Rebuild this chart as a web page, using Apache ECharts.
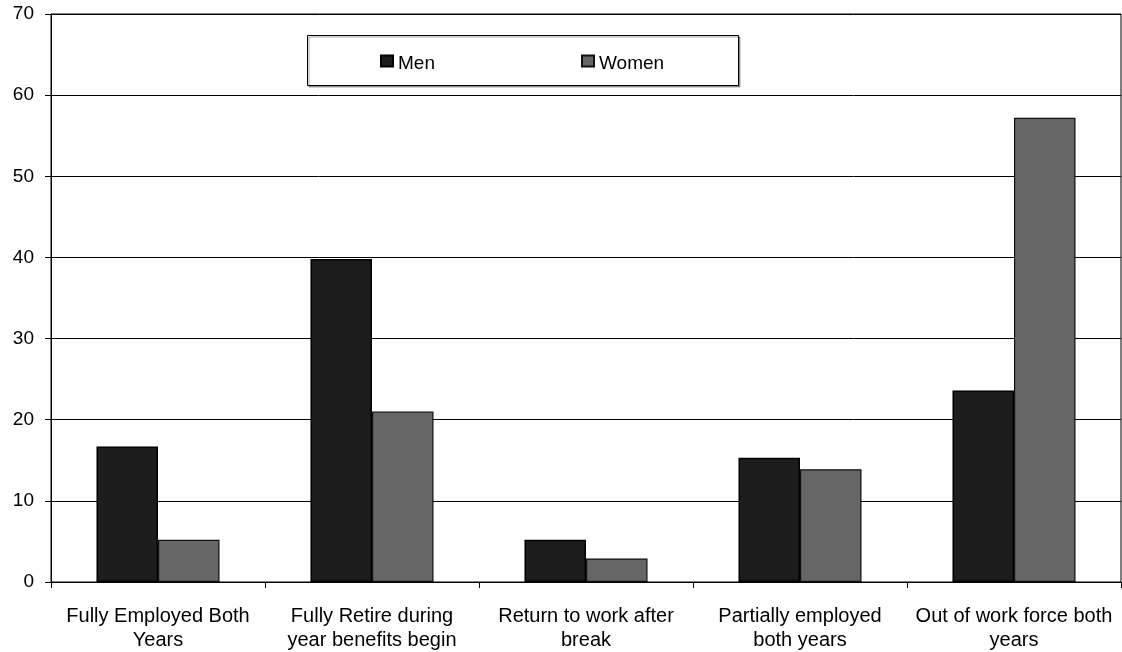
<!DOCTYPE html>
<html>
<head>
<meta charset="utf-8">
<script src="https://cdn.jsdelivr.net/npm/echarts@6/dist/echarts.min.js"></script>
<style>
  html, body { margin: 0; padding: 0; background: #ffffff; }
  #chart { width: 1122px; height: 652px; }
</style>
</head>
<body>
<div id="chart"></div>
<script>
// Employment transitions by sex (percent)
const categories = [
  'Fully Employed Both\nYears',
  'Fully Retire during\nyear benefits begin',
  'Return to work after\nbreak',
  'Partially employed\nboth years',
  'Out of work force both\nyears'
];
const menValues = [16.7, 39.8, 5.2, 15.3, 23.6];
const womenValues = [5.2, 21.0, 2.9, 13.9, 57.2];
const yTicks = { min: 0, max: 70, interval: 10 };

const FONT = '"Liberation Sans", Arial, sans-serif';
const chart = echarts.init(document.getElementById('chart'), null, { renderer: 'canvas' });

// legend label nudged slightly below the swatch centre
const legendText = {
  fontFamily: FONT, fontSize: 19, color: '#000',
  rich: { t: { fontFamily: FONT, fontSize: 19, color: '#000', lineHeight: 20, padding: [5, 0, 0, 0] } }
};
const legendFormatter = name => '{t|' + name + '}';

chart.setOption({
  animation: false,
  backgroundColor: '#ffffff',
  textStyle: { fontFamily: FONT, color: '#000' },
  grid: {
    left: 51, right: 1, top: 14, bottom: 69,
    show: true, borderColor: '#000', borderWidth: 1, backgroundColor: 'transparent'
  },
  graphic: [{
    type: 'rect',
    z: 3,
    shape: { x: 307.5, y: 35.5, width: 431, height: 50 },
    style: { fill: '#ffffff', stroke: '#000', lineWidth: 1,
             shadowColor: 'rgba(0,0,0,0.35)', shadowOffsetX: 1.5, shadowOffsetY: 1.5, shadowBlur: 0 }
  }],
  legend: [
    {
      left: 380, top: 49, z: 5, padding: 0,
      icon: 'rect', itemWidth: 12, itemHeight: 11, itemGap: 0,
      textStyle: legendText, formatter: legendFormatter,
      data: ['Men']
    },
    {
      left: 581, top: 49, z: 5, padding: 0,
      icon: 'rect', itemWidth: 12, itemHeight: 11, itemGap: 0,
      textStyle: legendText, formatter: legendFormatter,
      data: ['Women']
    }
  ],
  xAxis: {
    type: 'category',
    data: categories,
    axisLine: { show: true, lineStyle: { color: '#000', width: 1 } },
    axisTick: { show: true, length: 6, alignWithLabel: false, lineStyle: { color: '#000' } },
    axisLabel: {
      interval: 0, margin: 22, fontFamily: FONT, fontSize: 20, color: '#000',
      lineHeight: 24, align: 'center'
    }
  },
  yAxis: {
    type: 'value',
    min: yTicks.min, max: yTicks.max, interval: yTicks.interval,
    axisLine: { show: true, lineStyle: { color: '#000', width: 1 } },
    axisTick: { show: true, length: 6, lineStyle: { color: '#000' } },
    axisLabel: { margin: 17, fontFamily: FONT, fontSize: 19, color: '#000' },
    splitLine: { show: true, lineStyle: { color: '#000', width: 1 } }
  },
  series: [
    {
      name: 'Men', type: 'bar', data: menValues,
      barGap: '0%', barCategoryGap: '42.5%',
      itemStyle: { color: '#1c1c1c', borderColor: '#000', borderWidth: 1.5 }
    },
    {
      name: 'Women', type: 'bar', data: womenValues,
      barGap: '0%', barCategoryGap: '42.5%',
      itemStyle: { color: '#666666', borderColor: '#111', borderWidth: 1.2 }
    }
  ]
});
</script>
</body>
</html>
